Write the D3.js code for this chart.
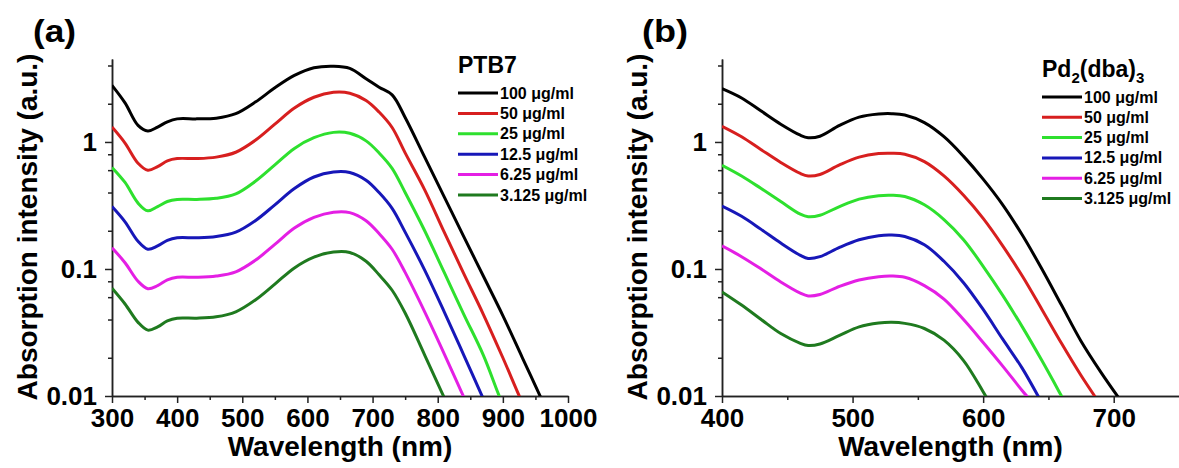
<!doctype html>
<html lang="en">
<head>
<meta charset="utf-8">
<title>Absorption spectra</title>
<script src="https://cdnjs.cloudflare.com/ajax/libs/d3/7.8.5/d3.min.js"></script>
<style>
  body { margin: 0; background: #fff; }
  svg text { font-family: "Liberation Sans", Arial, sans-serif; font-weight: bold; fill: #000; }
  .axis path, .axis line { stroke: #222; stroke-width: 1.5px; }
  .axis text { font-size: 26px; fill: #000; }
  .curve { fill: none; stroke-width: 3px; stroke-linejoin: round; }
</style>
</head>
<body>
<div id="chart"></div>
<script>
// legend labels (same concentrations in both panels)
var concLabels = ["100 \u03bcg/ml", "50 \u03bcg/ml", "25 \u03bcg/ml", "12.5 \u03bcg/ml", "6.25 \u03bcg/ml", "3.125 \u03bcg/ml"];
var colors = ["#000000", "#d71f1f", "#2ee02e", "#1717b8", "#e41fe4", "#1f7a1f"];

// (a) PTB7 - wavelength (nm) and absorption (a.u.)
var wlA = [300, 320, 340, 355, 370, 385, 400, 430, 460, 490, 520, 550, 580, 610, 640, 665, 690, 710, 730, 750, 780, 810, 840, 870, 900, 930, 960];
var ptb7_100 = [2.79, 2.03, 1.35, 1.22, 1.31, 1.44, 1.52, 1.52, 1.54, 1.67, 2.06, 2.67, 3.34, 3.84, 3.95, 3.8, 3.15, 2.7, 2.35, 1.56, 0.76, 0.37, 0.18, 0.088, 0.043, 0.020, 0.0093];
var ptb7_50 = [1.31, 0.98, 0.68, 0.60, 0.64, 0.71, 0.74, 0.74, 0.76, 0.83, 1.03, 1.38, 1.85, 2.25, 2.46, 2.42, 2.12, 1.72, 1.30, 0.82, 0.42, 0.195, 0.092, 0.044, 0.020, 0.0088, 0.0042];
var ptb7_25 = [0.63, 0.48, 0.33, 0.287, 0.31, 0.34, 0.353, 0.353, 0.36, 0.39, 0.49, 0.66, 0.89, 1.08, 1.19, 1.17, 1.02, 0.82, 0.62, 0.40, 0.20, 0.094, 0.044, 0.021, 0.0085, 0.004, 0.002];
var ptb7_12 = [0.31, 0.235, 0.165, 0.143, 0.152, 0.168, 0.176, 0.176, 0.18, 0.195, 0.24, 0.32, 0.43, 0.53, 0.58, 0.575, 0.50, 0.40, 0.30, 0.195, 0.098, 0.046, 0.021, 0.0095, 0.0044, 0.002, 0.001];
var ptb7_6 = [0.147, 0.112, 0.08, 0.07, 0.074, 0.082, 0.086, 0.086, 0.088, 0.095, 0.117, 0.156, 0.21, 0.255, 0.28, 0.278, 0.24, 0.19, 0.143, 0.094, 0.046, 0.0215, 0.0098, 0.0045, 0.002, 0.001, 0.0005];
var ptb7_3 = [0.0705, 0.053, 0.038, 0.033, 0.035, 0.039, 0.041, 0.041, 0.042, 0.046, 0.057, 0.076, 0.102, 0.124, 0.136, 0.135, 0.115, 0.09, 0.068, 0.045, 0.021, 0.0097, 0.0044, 0.002, 0.001, 0.0005, 0.0002];

// (b) Pd2(dba)3
var wlB = [400, 415, 430, 445, 460, 466, 475, 490, 505, 520, 530, 540, 555, 570, 585, 600, 615, 630, 645, 660, 675, 690, 705];
var pd_100 = [2.63, 2.22, 1.75, 1.38, 1.13, 1.08, 1.11, 1.35, 1.57, 1.66, 1.67, 1.63, 1.42, 1.10, 0.77, 0.51, 0.32, 0.185, 0.10, 0.052, 0.027, 0.0155, 0.0093];
var pd_50 = [1.33, 1.10, 0.87, 0.69, 0.565, 0.54, 0.555, 0.66, 0.76, 0.81, 0.815, 0.80, 0.70, 0.54, 0.38, 0.25, 0.152, 0.088, 0.048, 0.026, 0.0145, 0.0085, 0.005];
var pd_25 = [0.656, 0.54, 0.43, 0.34, 0.27, 0.258, 0.265, 0.31, 0.355, 0.378, 0.381, 0.372, 0.32, 0.245, 0.17, 0.105, 0.062, 0.035, 0.019, 0.010, 0.0052, 0.003, 0.002];
var pd_12 = [0.313, 0.26, 0.205, 0.16, 0.128, 0.121, 0.125, 0.148, 0.17, 0.183, 0.185, 0.18, 0.155, 0.115, 0.078, 0.048, 0.028, 0.0165, 0.0088, 0.0045, 0.002, 0.001, 0.0005];
var pd_6 = [0.152, 0.125, 0.1, 0.079, 0.0645, 0.0614, 0.063, 0.073, 0.082, 0.087, 0.088, 0.086, 0.074, 0.058, 0.04, 0.0264, 0.0172, 0.011, 0.0072, 0.004, 0.002, 0.001, 0.0005];
var pd_3 = [0.066, 0.052, 0.04, 0.031, 0.026, 0.025, 0.0257, 0.03, 0.035, 0.0375, 0.038, 0.0373, 0.034, 0.0275, 0.019, 0.0108, 0.0058, 0.003, 0.0015, 0.001, 0.0005, 0.0003, 0.0002];

// axis ticks
var xTicksA = [300, 400, 500, 600, 700, 800, 900, 1000];
var xTicksB = [400, 500, 600, 700];
var yTicks = [0.01, 0.1, 1];

var width = 1179, height = 468;

var svg = d3.select("#chart").append("svg")
    .attr("width", width)
    .attr("height", height);

function drawPanel(p) {
    var x = d3.scaleLinear().domain(p.xDomain).range(p.xRange);
    var y = d3.scaleLog().domain([0.01, 4.5]).range([396, 59]);

    var g = svg.append("g");

    // clip lines to the plotting area
    g.append("clipPath").attr("id", p.id + "-clip")
        .append("rect")
            .attr("x", p.xRange[0])
            .attr("y", 0)
            .attr("width", p.xRange[1] - p.xRange[0])
            .attr("height", 396);

    // minor ticks first, then major axes on top
    var xMinor = [];
    for (var v = p.xDomain[0] + 50; v < p.xDomain[1]; v += 100) xMinor.push(v);
    g.append("g").attr("class", "axis")
        .attr("transform", "translate(0,396)")
        .call(d3.axisBottom(x).tickValues(xMinor).tickSize(4).tickSizeOuter(0).tickFormat(""));

    var yMinor = [];
    [0.01, 0.1, 1].forEach(function(dec) {
        [2, 4, 6, 8].forEach(function(m) { if (dec * m <= 4.5) yMinor.push(dec * m); });
    });
    g.append("g").attr("class", "axis")
        .attr("transform", "translate(" + p.xRange[0] + ",0)")
        .call(d3.axisLeft(y).tickValues(yMinor).tickSize(4).tickSizeOuter(0).tickFormat(""));

    g.append("g").attr("class", "axis")
        .attr("transform", "translate(0,396)")
        .call(d3.axisBottom(x).tickValues(p.xTicks).tickSize(7).tickSizeOuter(0).tickPadding(6).tickFormat(d3.format("d")));

    g.append("g").attr("class", "axis")
        .attr("transform", "translate(" + p.xRange[0] + ",0)")
        .call(d3.axisLeft(y).tickValues(yTicks).tickSize(7).tickSizeOuter(0).tickPadding(8)
            .tickFormat(function(d) { return d === 1 ? "1" : String(d); }));

    g.selectAll(".axis text").attr("font-family", "Liberation Sans, Arial, sans-serif").attr("font-weight", "bold");

    // curves
    var line = d3.line()
        .x(function(d) { return x(d[0]); })
        .y(function(d) { return y(d[1]); })
        .curve(d3.curveCatmullRom.alpha(0.5));

    var plot = g.append("g").attr("clip-path", "url(#" + p.id + "-clip)");
    p.series.forEach(function(vals, i) {
        plot.append("path")
            .attr("class", "curve")
            .attr("stroke", colors[i])
            .attr("d", line(p.wl.map(function(w, k) { return [w, vals[k]]; })));
    });

    // axis titles
    g.append("text")
        .attr("x", (p.xRange[0] + p.xRange[1]) / 2)
        .attr("y", 456)
        .attr("text-anchor", "middle")
        .style("font-size", "28px")
        .text("Wavelength (nm)");

    g.append("text")
        .attr("transform", "translate(" + (p.xRange[0] - 75) + "," + 227 + ") rotate(-90)")
        .attr("text-anchor", "middle")
        .style("font-size", "28px")
        .text("Absorption intensity (a.u.)");

    // panel letter
    g.append("text")
        .attr("x", p.letterX)
        .attr("y", 42)
        .style("font-size", "31px")
        .attr("textLength", p.letterW)
        .attr("lengthAdjust", "spacingAndGlyphs")
        .text(p.letter);

    // legend
    var lg = g.append("g").attr("transform", "translate(" + p.legX + "," + p.legY + ")");
    var title = lg.append("text").attr("x", 0).attr("y", -20).style("font-size", "23px");
    p.title.forEach(function(part) {
        var t = title.append("tspan").text(part.t);
        if (part.sub) t.style("font-size", "15px").attr("dy", 6);
        else if (part.after) t.attr("dy", -6);
    });
    concLabels.forEach(function(lab, i) {
        var row = lg.append("g").attr("transform", "translate(0," + (i * p.legStep) + ")");
        row.append("line")
            .attr("x1", 0).attr("x2", 40)
            .attr("y1", 0).attr("y2", 0)
            .attr("stroke", colors[i])
            .attr("stroke-width", 3);
        row.append("text")
            .attr("x", 42)
            .attr("y", 0)
            .attr("dominant-baseline", "central")
            .style("font-size", "16px")
            .text(lab);
    });
}

drawPanel({
    id: "pa",
    xDomain: [300, 1000], xRange: [112, 568], xTicks: xTicksA,
    wl: wlA,
    series: [ptb7_100, ptb7_50, ptb7_25, ptb7_12, ptb7_6, ptb7_3],
    letter: "(a)", letterX: 33, letterW: 43,
    legX: 458, legY: 93, legStep: 20.4,
    title: [{t: "PTB7"}]
});

drawPanel({
    id: "pb",
    xDomain: [400, 750], xRange: [722, 1179], xTicks: xTicksB,
    wl: wlB,
    series: [pd_100, pd_50, pd_25, pd_12, pd_6, pd_3],
    letter: "(b)", letterX: 642, letterW: 46,
    legX: 1042, legY: 97, legStep: 20.3,
    title: [{t: "Pd"}, {t: "2", sub: true}, {t: "(dba)", after: true}, {t: "3", sub: true}]
});
</script>
</body>
</html>
